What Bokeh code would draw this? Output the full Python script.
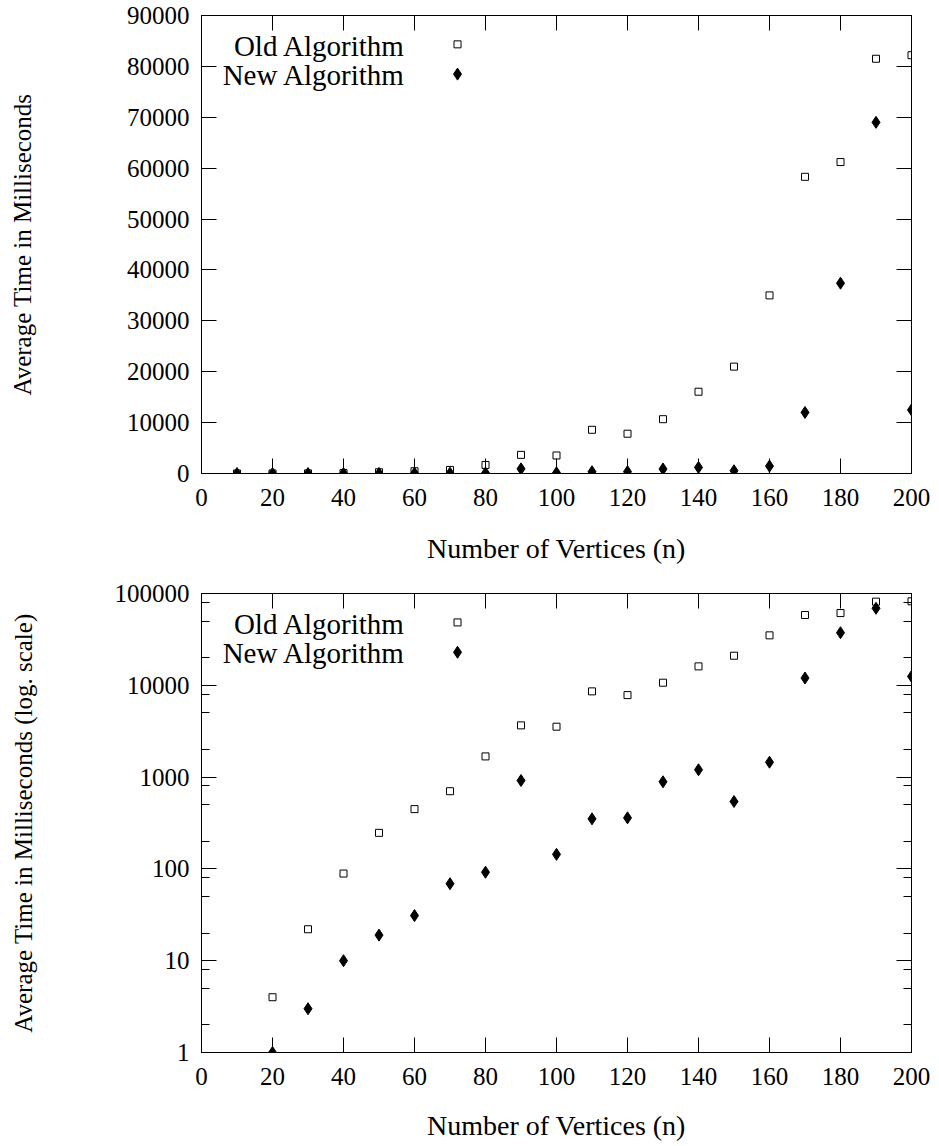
import math
from bokeh.plotting import figure
from bokeh.layouts import column
from bokeh.models import (FixedTicker, LinearAxis, LogAxis, PrintfTickFormatter,
                          CustomJSTickFormatter, Range1d, Label, ColumnDataSource)
from bokeh.embed import file_html
from bokeh.resources import INLINE

# ---------------- data ----------------
vertices = [10, 20, 30, 40, 50, 60, 70, 80, 90, 100,
            110, 120, 130, 140, 150, 160, 170, 180, 190, 200]
old_ms = [0, 4, 22, 89, 247, 448, 702, 1680, 3660, 3540,
          8590, 7820, 10670, 16070, 21000, 35000, 58300, 61200, 81500, 82200]
new_ms = [0, 1, 3, 10, 19, 31, 69, 92, 918, 144,
          351, 360, 889, 1202, 542, 1453, 12000, 37400, 69000, 12500]

series_labels = ["Old Algorithm", "New Algorithm"]
x_ticks = [0, 20, 40, 60, 80, 100, 120, 140, 160, 180, 200]
lin_y_ticks = [0, 10000, 20000, 30000, 40000, 50000, 60000, 70000, 80000, 90000]
log_y_ticks = [1, 10, 100, 1000, 10000, 100000]
log_minor_mult = [2, 5, 8]
x_label = "Number of Vertices (n)"
y_label_lin = "Average Time in Milliseconds"
y_label_log = "Average Time in Milliseconds (log. scale)"

FONT = "Liberation Serif"
TICK_FS = "25px"
YLAB_FS = "25px"
XLAB_FS = "28px"
LEG_FS = "29px"


def style_axis(ax, labels=True):
    ax.axis_line_color = "black"
    ax.axis_line_width = 1
    ax.major_tick_in = 15
    ax.major_tick_out = 0
    ax.minor_tick_in = 8
    ax.minor_tick_out = 0
    ax.major_tick_line_color = "black"
    ax.minor_tick_line_color = "black"
    ax.major_label_text_font = FONT
    ax.major_label_text_color = "black"
    ax.axis_label_text_font = FONT
    ax.axis_label_text_font_style = "normal"
    ax.axis_label_text_color = "black"
    if labels:
        ax.major_label_text_font_size = TICK_FS
    else:
        ax.formatter = CustomJSTickFormatter(code="return ''")
        ax.major_label_text_font_size = "1px"
        ax.major_label_standoff = 0


def make_fig(log, frame_h, b_top, b_bottom):
    common = dict(frame_width=710, frame_height=frame_h,
                  x_range=Range1d(x_ticks[0], x_ticks[-1]),
                  output_backend="svg", toolbar_location=None,
                  min_border_left=201, min_border_right=26, min_border_top=b_top,
                  min_border_bottom=b_bottom)
    if log:
        p = figure(y_range=Range1d(log_y_ticks[0], log_y_ticks[-1]), y_axis_type="log", **common)
        minor = [m * t for t in log_y_ticks[:-1] for m in log_minor_mult]
        yticker = FixedTicker(ticks=log_y_ticks, minor_ticks=minor)
    else:
        p = figure(y_range=Range1d(lin_y_ticks[0], lin_y_ticks[-1]), **common)
        yticker = FixedTicker(ticks=lin_y_ticks, minor_ticks=[])
    xticker = FixedTicker(ticks=x_ticks, minor_ticks=[])
    p.grid.visible = False
    p.background_fill_color = "white"
    p.border_fill_color = "white"
    p.outline_line_color = "black"
    p.outline_line_width = 1

    xa = p.xaxis[0]
    xa.ticker = xticker
    style_axis(xa)
    xa.axis_label = x_label
    xa.axis_label_text_font_size = XLAB_FS
    xa.major_label_standoff = 15

    ya = p.yaxis[0]
    ya.ticker = yticker
    ya.formatter = PrintfTickFormatter(format="%d")
    style_axis(ya)
    ya.axis_label = y_label_log if log else y_label_lin
    ya.axis_label_text_font_size = YLAB_FS
    ya.major_label_standoff = 12

    top = LinearAxis(ticker=xticker)
    style_axis(top, labels=False)
    p.add_layout(top, "above")
    right = (LogAxis if log else LinearAxis)(ticker=yticker)
    style_axis(right, labels=False)
    p.add_layout(right, "right")

    keep_old = [a > 0 or not log for a in old_ms]
    keep_new = [b > 0 or not log for b in new_ms]
    src = ColumnDataSource(data=dict(
        x=[v for v, k in zip(vertices, keep_old) if k],
        y=[a for a, k in zip(old_ms, keep_old) if k]))
    src2 = ColumnDataSource(data=dict(
        x=[v for v, k in zip(vertices, keep_new) if k],
        y=[b for b, k in zip(new_ms, keep_new) if k]))
    p.scatter("x", "y", source=src, marker="square", size=7, fill_color=None,
              line_color="black", line_width=1)
    p.scatter("x", "y", source=src2, marker="diamond", size=12, fill_color="black",
              line_color="black", line_width=1)

    # key (text left of the symbol, gnuplot style), positioned by frame fractions
    def fx(f):
        return x_ticks[0] + f * (x_ticks[-1] - x_ticks[0])

    def fy(f):
        if log:
            a, b = math.log10(log_y_ticks[0]), math.log10(log_y_ticks[-1])
            return 10 ** (b - f * (b - a))
        return lin_y_ticks[-1] - f * (lin_y_ticks[-1] - lin_y_ticks[0])

    text_fx = 0.2873
    mark_fx = 0.3606
    base_fy = [0.066, 0.130]
    mark_fy = [0.063, 0.128]
    for lab, by in zip(series_labels, base_fy):
        p.add_layout(Label(x=fx(text_fx), y=fy(by), text=lab, text_align="right",
                           text_baseline="alphabetic", text_font=FONT,
                           text_font_size=LEG_FS, text_color="black"))
    p.scatter([fx(mark_fx)], [fy(mark_fy[0])], marker="square", size=7, fill_color=None,
              line_color="black", line_width=1)
    p.scatter([fx(mark_fx)], [fy(mark_fy[1])], marker="diamond", size=12,
              fill_color="black", line_color="black", line_width=1)
    return p, xa


p1, xa1 = make_fig(False, 458, 15, 100)
p1.yaxis[0].axis_label_standoff = 88
xa1.axis_label_standoff = 24
p2, xa2 = make_fig(True, 459, 20, 94)
p2.yaxis[0].axis_label_standoff = 75
xa2.axis_label_standoff = 22

layout = column(p1, p2, spacing=0)
open("out.html", "w").write(file_html(layout, INLINE))
